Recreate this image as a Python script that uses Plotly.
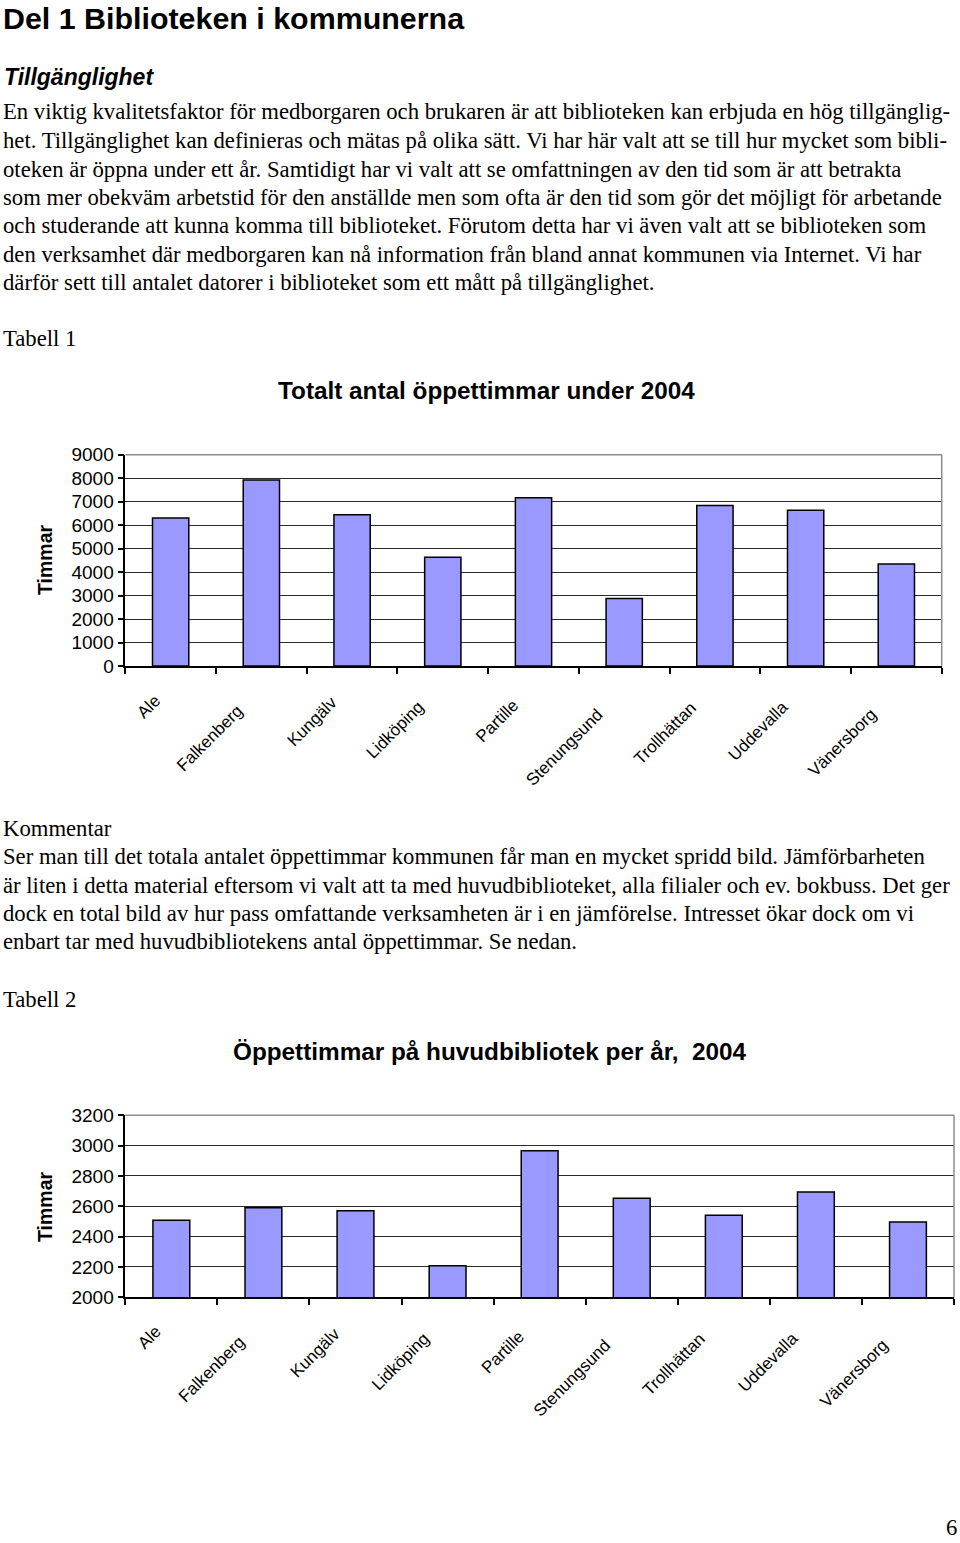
import plotly.graph_objects as go

W, H = 960, 1543

kommuner = ["Ale", "Falkenberg", "Kungälv", "Lidköping", "Partille",
            "Stenungsund", "Trollhättan", "Uddevalla", "Vänersborg"]
timmar_totalt = [6300, 7920, 6440, 4630, 7170, 2870, 6840, 6630, 4340]
timmar_huvudbibl = [2508, 2590, 2571, 2208, 2966, 2653, 2541, 2694, 2496]

rubrik = "Del 1 Biblioteken i kommunerna"
underrubrik = "Tillgänglighet"
stycke1 = [
    "En viktig kvalitetsfaktor för medborgaren och brukaren är att biblioteken kan erbjuda en hög tillgänglig-",
    "het. Tillgänglighet kan definieras och mätas på olika sätt. Vi har här valt att se till hur mycket som bibli-",
    "oteken är öppna under ett år. Samtidigt har vi valt att se omfattningen av den tid som är att betrakta",
    "som mer obekväm arbetstid för den anställde men som ofta är den tid som gör det möjligt för arbetande",
    "och studerande att kunna komma till biblioteket. Förutom detta har vi även valt att se biblioteken som",
    "den verksamhet där medborgaren kan nå information från bland annat kommunen via Internet. Vi har",
    "därför sett till antalet datorer i biblioteket som ett mått på tillgänglighet.",
]
stycke2 = [
    "Kommentar",
    "Ser man till det totala antalet öppettimmar kommunen får man en mycket spridd bild. Jämförbarheten",
    "är liten i detta material eftersom vi valt att ta med huvudbiblioteket, alla filialer och ev. bokbuss. Det ger",
    "dock en total bild av hur pass omfattande verksamheten är i en jämförelse. Intresset ökar dock om vi",
    "enbart tar med huvudbibliotekens antal öppettimmar. Se nedan.",
]
titel1 = "Totalt antal öppettimmar under 2004"
titel2 = "Öppettimmar på huvudbibliotek per år,  2004"

SERIF = "Liberation Serif"
SANS = "Liberation Sans"
BAR = "#9999FF"
BODY = 22.7


def fx(x):
    return x / W


def fy(y):
    return 1 - y / H


fig = go.Figure()
fig.add_trace(go.Bar(x=kommuner, y=timmar_totalt, xaxis="x", yaxis="y",
                     marker=dict(color=BAR, line=dict(color="black", width=1.5)),
                     hoverinfo="x+y", showlegend=False))
fig.add_trace(go.Bar(x=kommuner, y=timmar_huvudbibl, xaxis="x2", yaxis="y2",
                     marker=dict(color=BAR, line=dict(color="black", width=1.5)),
                     hoverinfo="x+y", showlegend=False))

xax = dict(showgrid=False, showline=True, linecolor="black", linewidth=1.5,
           ticks="outside", tickson="boundaries", ticklen=6, tickcolor="black",
           tickwidth=1.5, showticklabels=False, fixedrange=True, automargin=False)
yax = dict(showgrid=True, gridcolor="#2a2a2a", gridwidth=1, showline=True,
           linecolor="black", linewidth=1.5, ticks="outside", ticklen=6,
           tickcolor="black", tickwidth=1.5, zeroline=False,
           tickfont=dict(family=SANS, size=19, color="black"),
           fixedrange=True, automargin=False)

fig.update_layout(
    width=W, height=H, margin=dict(l=0, r=0, t=0, b=0),
    paper_bgcolor="white", plot_bgcolor="white", bargap=0.6,
    xaxis=dict(xax, domain=[fx(125.3), fx(941.7)], anchor="y"),
    yaxis=dict(yax, domain=[fy(666), fy(454.7)], range=[0, 9000], dtick=1000, anchor="x"),
    xaxis2=dict(xax, domain=[fx(125.3), fx(954)], anchor="y2"),
    yaxis2=dict(yax, domain=[fy(1297.3), fy(1115.3)], range=[2000, 3200], dtick=200, anchor="x2"),
)

# grey frame top and right
for xr, yr in (("x domain", "y domain"), ("x2 domain", "y2 domain")):
    fig.add_shape(type="line", xref=xr, yref=yr, x0=0, x1=1, y0=1, y1=1,
                  line=dict(color="#8c8c8c", width=1.5), layer="above")
    fig.add_shape(type="line", xref=xr, yref=yr, x0=1, x1=1, y0=0, y1=1,
                  line=dict(color="#8c8c8c", width=1.5), layer="above")

ann = []


def txt(text, x, y, size, family=SERIF, xanchor="left", **kw):
    ann.append(dict(text=text, x=fx(x), y=fy(y), xref="paper", yref="paper",
                    xanchor=xanchor, yanchor="middle", showarrow=False,
                    font=dict(family=family, size=size, color="black"), **kw))


txt("<b>" + rubrik + "</b>", 1, 18, 30.4, SANS)
txt("<b><i>" + underrubrik + "</i></b>", 2, 77, 23, SANS)
for i, line in enumerate(stycke1):
    txt(line, 1, 112 + i * 28.5, BODY)
txt("Tabell 1", 1, 339, BODY)
txt("<b>" + titel1 + "</b>", 486, 390, 24.3, SANS, xanchor="center")
txt("<b>Timmar</b>", 45, 560, 19.5, SANS, xanchor="center", textangle=-90)

for i, line in enumerate(stycke2):
    txt(line, 1, 828 + i * 28.5, BODY)
txt("Tabell 2", 1, 999, BODY)
txt("<b>" + titel2 + "</b>", 490, 1051, 24.3, SANS, xanchor="center")
txt("<b>Timmar</b>", 45, 1207, 19.5, SANS, xanchor="center", textangle=-90)
txt("6", 959, 1527, BODY, xanchor="right")

# slanted category labels, staggered like the original
lab_dx = [-22, -52, -40, -47, -37, -60, -50, -48, -54]
lab_dy = [40, 72, 55, 64, 55, 81, 67, 65, 76]
for xref, base in (("x", 666), ("x2", 1297.3)):
    for k, dx, dy in zip(kommuner, lab_dx, lab_dy):
        ann.append(dict(text=k, x=k, xref=xref, y=fy(base + dy), yref="paper",
                        xshift=dx, xanchor="center", yanchor="middle",
                        textangle=-45, showarrow=False,
                        font=dict(family=SANS, size=17, color="black")))

fig.update_layout(annotations=ann)
# drop the browser's default body margin so the page is exactly the figure
fig.write_html("out.html", config={"displayModeBar": False},
               post_script="document.body.style.margin='0';")
